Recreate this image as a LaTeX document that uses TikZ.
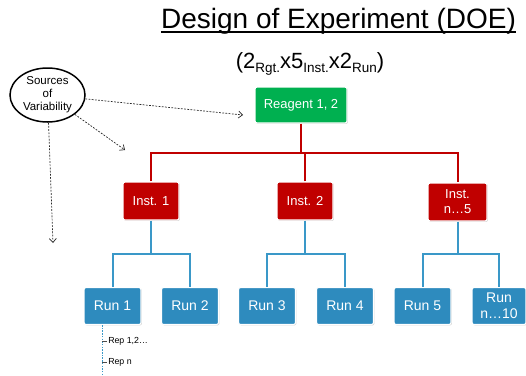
\documentclass[tikz,border=0pt]{standalone}
\usepackage{fontspec}
\setmainfont{Liberation Sans}
\usetikzlibrary{shadows,arrows.meta,shapes.geometric}
\definecolor{dgreen}{HTML}{00B050}
\definecolor{dred}{HTML}{C00000}
\definecolor{dblue}{HTML}{2E8BBE}
\definecolor{lblue}{HTML}{3A98C8}
\tikzset{
  box/.style={rectangle, rounded corners=2pt, draw=white, line width=1.2pt, text=white,
    font=\fontsize{13}{15}\selectfont, align=center, inner sep=0pt,
    drop shadow={shadow xshift=0.9pt, shadow yshift=-0.9pt, fill=black!35, opacity=0.5}},
  greenbox/.style={box, fill=dgreen, minimum width=92pt, minimum height=36pt},
  instbox/.style={box, fill=dred, minimum width=56pt, minimum height=38pt},
  runbox/.style={box, fill=dblue, minimum width=57pt, minimum height=37pt, font=\fontsize{14}{16}\selectfont},
  redc/.style={draw=dred, line width=2pt},
  bluec/.style={draw=lblue, line width=2pt},
  dotarrow/.style={draw=black!85, line width=0.7pt, dash pattern=on 1.8pt off 1.4pt,
    -{Straight Barb[length=4pt,width=7pt]}},
  replabel/.style={font=\fontsize{8.8}{10}\selectfont, inner sep=1pt, anchor=west}
}
\begin{document}
\begin{tikzpicture}[x=1pt,y=-1pt]
\useasboundingbox (0,0) rectangle (526,375);

% title
\node[inner sep=0pt, font=\fontsize{28}{30}\selectfont, anchor=base] (title) at (338.5,28) {Design of Experiment (DOE)};
\draw[line width=1.4pt] ([yshift=-4pt]title.base west) -- ([yshift=-4pt]title.base east);

% formula
\node[inner sep=0pt, font=\fontsize{22}{24}\selectfont, anchor=base] (formula) at (310,68)
  {(2\raisebox{-4.5pt}{\fontsize{13.5}{14}\selectfont Rgt.}x5\raisebox{-4.5pt}{\fontsize{13.5}{14}\selectfont Inst.}x2\raisebox{-4.5pt}{\fontsize{13.5}{14}\selectfont Run})};

% boxes
\node[greenbox] (reag) at (301,105) {Reagent 1, 2};
\node[instbox] (inst1) at (151,201) {Inst. 1};
\node[instbox] (inst2) at (305,201) {Inst. 2};
\node[instbox, minimum width=59pt] (inst3) at (457.5,202) {Inst.\\n\ldots5};

\node[runbox] (run1) at (112.5,306) {Run 1};
\node[runbox] (run2) at (190,306) {Run 2};
\node[runbox] (run3) at (267,306) {Run 3};
\node[runbox] (run4) at (345,306) {Run 4};
\node[runbox] (run5) at (422.5,306) {Run 5};
\node[runbox, minimum width=54pt] (run6) at (499,306) {Run\\n\ldots10};

% red connectors
\coordinate (rbar) at (0,153);
\draw[redc] (reag.south) -- (reag.south |- rbar);
\draw[redc] (inst1.north) |- (rbar -| inst3.north) -- (inst3.north);
\draw[redc] (inst2.north) -- (inst2.north |- rbar);

% blue connectors
\coordinate (bbar) at (0,253.5);
\draw[bluec] (inst1.south) -- (inst1.south |- bbar);
\draw[bluec] (run1.north) |- (bbar -| run2.north) -- (run2.north);
\draw[bluec] (inst2.south) -- (inst2.south |- bbar);
\draw[bluec] (run3.north) |- (bbar -| run4.north) -- (run4.north);
\draw[bluec] (inst3.south) -- (inst3.south |- bbar);
\draw[bluec] (run5.north) |- (bbar -| run6.north) -- (run6.north);

% sources of variability
\node[ellipse, draw=black, line width=1.5pt, minimum width=75pt, minimum height=54pt, inner sep=0pt,
  align=center, font=\fontsize{11.5}{13}\selectfont] (src) at (47.5,95) {Sources\\of\\Variability};
\coordinate (a1) at (243,115);
\coordinate (a2) at (125,150);
\coordinate (a3) at (53,243);
\draw[dotarrow] (src) -- (a1);
\draw[dotarrow] (src) -- (a2);
\draw[dotarrow] (src) -- (a3);

% replicates
\coordinate (rtop) at (102,325);
\coordinate (rbot) at (102,375);
\draw[lblue, line width=0.6pt, dash pattern=on 1.5pt off 1.2pt] (rtop) -- (rbot);
\coordinate (t1) at (102,341);
\coordinate (t2) at (102,362);
\draw[black!70, line width=0.5pt] (t1) -- ++(5,0) node[replabel, text=black] (rep1) {Rep 1,2\ldots};
\draw[black!70, line width=0.5pt] (t2) -- ++(5,0) node[replabel, text=black] (repn) {Rep n};
\end{tikzpicture}
\end{document}
